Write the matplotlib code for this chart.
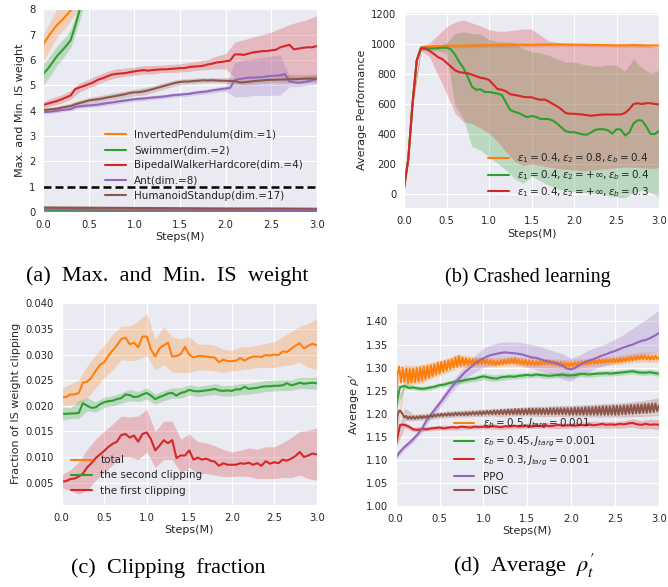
import numpy as np
import matplotlib
matplotlib.use("Agg")
import matplotlib.pyplot as plt
import seaborn as sns

sns.set_style("darkgrid")
plt.rcParams['font.family'] = ['DejaVu Sans']
plt.rcParams['mathtext.fontset'] = 'dejavusans'

C_OR, C_GR, C_RD, C_PU, C_BR = '#ff7f0e', '#2ca02c', '#d62728', '#9467bd', '#8c564b'

# ---------------- (a) Max. and Min. IS weight ----------------
a_labels = ['InvertedPendulum(dim.=1)', 'Swimmer(dim.=2)', 'BipedalWalkerHardcore(dim.=4)',
            'Ant(dim.=8)', 'HumanoidStandup(dim.=17)']
a_steps = np.linspace(0, 3, 61)
a_band_steps = np.linspace(0, 3, 31)
a_orange_steps = [0, 0.05, 0.1, 0.15, 0.2, 0.25, 0.3, 0.35, 0.4]
a_max_orange = [6.62, 6.9, 7.15, 7.38, 7.55, 7.75, 7.95, 8.15, 8.35]
a_orange_lo = [5.95, 6.3, 6.6, 6.9, 7.1, 7.3, 7.55, 7.8, 8.0]
a_orange_hi = [7.0, 7.35, 7.7, 8.0, 8.2, 8.4, 8.6, 8.8, 9.0]
a_green_steps = [0, 0.05, 0.1, 0.15, 0.2, 0.25, 0.3, 0.35, 0.4, 0.45]
a_max_green = [5.45, 5.65, 5.9, 6.15, 6.35, 6.55, 6.78, 7.35, 7.98, 8.6]
a_green_lo = [5.0, 5.25, 5.5, 5.8, 6.0, 6.25, 6.5, 7.0, 7.6, 8.2]
a_green_hi = [5.85, 6.05, 6.3, 6.55, 6.75, 6.95, 7.2, 7.7, 8.35, 9.0]
a_max_red = [4.22, 4.28, 4.33, 4.38, 4.45, 4.52, 4.60, 4.85, 4.92, 4.98,
             5.05, 5.12, 5.22, 5.28, 5.35, 5.42, 5.45, 5.47, 5.48, 5.52,
             5.55, 5.58, 5.60, 5.58, 5.60, 5.62, 5.63, 5.63, 5.65, 5.66,
             5.68, 5.68, 5.72, 5.74, 5.75, 5.77, 5.82, 5.85, 5.90, 5.92,
             5.95, 5.98, 6.22, 6.22, 6.20, 6.25, 6.30, 6.32, 6.35, 6.35,
             6.38, 6.40, 6.50, 6.55, 6.60, 6.42, 6.45, 6.48, 6.50, 6.50,
             6.55]
a_red_lo = [4.1, 4.2, 4.3, 4.45, 4.75, 4.9, 5.05, 5.2, 5.3, 5.35,
            5.4, 5.45, 5.45, 5.5, 5.5, 5.52, 5.55, 5.6, 5.62, 5.65,
            5.65, 5.3, 5.3, 5.35, 5.4, 5.4, 5.35, 5.3, 5.25, 5.2, 5.2]
a_red_hi = [4.35, 4.5, 4.62, 4.8, 5.1, 5.25, 5.4, 5.55, 5.65, 5.68,
            5.72, 5.78, 5.78, 5.8, 5.82, 5.85, 5.9, 5.95, 6.02, 6.15,
            6.25, 6.7, 6.8, 6.9, 7.0, 7.1, 7.25, 7.4, 7.5, 7.6, 7.75]
a_max_purple = [3.95, 3.95, 3.97, 3.99, 4.02, 4.04, 4.06, 4.15, 4.17, 4.19,
                4.20, 4.22, 4.24, 4.27, 4.30, 4.32, 4.35, 4.38, 4.40, 4.43,
                4.45, 4.47, 4.48, 4.50, 4.52, 4.53, 4.55, 4.57, 4.60, 4.62,
                4.63, 4.65, 4.66, 4.70, 4.72, 4.74, 4.76, 4.80, 4.82, 4.85,
                4.87, 4.90, 5.20, 5.25, 5.27, 5.30, 5.30, 5.32, 5.32, 5.35,
                5.37, 5.38, 5.40, 5.45, 5.15, 5.12, 5.10, 5.12, 5.15, 5.20,
                5.25]
a_purple_lo = [3.88, 3.9, 3.95, 3.99, 4.1, 4.13, 4.16, 4.22, 4.27, 4.32,
               4.37, 4.4, 4.44, 4.47, 4.52, 4.55, 4.58, 4.63, 4.67, 4.72,
               4.77, 4.55, 4.55, 4.6, 4.6, 4.6, 4.62, 4.95, 4.95, 5.0, 5.05]
a_purple_hi = [4.02, 4.04, 4.09, 4.14, 4.25, 4.28, 4.32, 4.38, 4.43, 4.48,
               4.53, 4.56, 4.6, 4.63, 4.68, 4.72, 4.75, 4.81, 4.85, 4.92,
               4.97, 5.9, 6.0, 6.05, 6.1, 6.15, 6.2, 5.35, 5.3, 5.35, 5.45]
a_max_brown = [4.02, 4.04, 4.06, 4.08, 4.12, 4.15, 4.18, 4.25, 4.30, 4.35,
               4.40, 4.43, 4.45, 4.48, 4.52, 4.55, 4.58, 4.62, 4.65, 4.70,
               4.72, 4.73, 4.76, 4.80, 4.85, 4.90, 4.95, 5.00, 5.05, 5.10,
               5.13, 5.15, 5.15, 5.17, 5.18, 5.20, 5.19, 5.20, 5.19, 5.18,
               5.18, 5.17, 5.17, 5.12, 5.12, 5.14, 5.16, 5.18, 5.19, 5.21,
               5.22, 5.22, 5.23, 5.23, 5.24, 5.24, 5.25, 5.26, 5.27, 5.26,
               5.26]
a_brown_lo = [3.95, 3.98, 4.03, 4.08, 4.18, 4.28, 4.33, 4.4, 4.45, 4.52,
              4.58, 4.62, 4.72, 4.82, 4.93, 5.02, 5.05, 5.08, 5.1, 5.1,
              5.08, 5.06, 5.02, 5.05, 5.08, 5.1, 5.1, 5.1, 5.1, 5.12, 5.12]
a_brown_hi = [4.1, 4.14, 4.2, 4.3, 4.42, 4.52, 4.58, 4.65, 4.72, 4.78,
              4.85, 4.9, 4.98, 5.08, 5.17, 5.25, 5.27, 5.3, 5.3, 5.3,
              5.3, 5.3, 5.25, 5.3, 5.33, 5.38, 5.4, 5.42, 5.42, 5.42, 5.42]
a_min_steps = [0, 0.5, 1.0, 1.5, 2.0, 2.5, 3.0]
a_min_orange = [0.03, 0.025, 0.02, 0.02, 0.02, 0.02, 0.02]
a_min_green = [0.06, 0.045, 0.04, 0.035, 0.035, 0.03, 0.03]
a_min_red = [0.13, 0.12, 0.11, 0.105, 0.10, 0.10, 0.10]
a_min_purple = [0.11, 0.10, 0.095, 0.09, 0.09, 0.085, 0.085]
a_min_brown = [0.18, 0.17, 0.16, 0.15, 0.14, 0.14, 0.13]
a_threshold = 1.0

# ---------------- (b) Crashed learning ----------------
b_labels = [r'$\varepsilon_1=0.4, \varepsilon_2=0.8, \varepsilon_b=0.4$',
            r'$\varepsilon_1=0.4, \varepsilon_2=+\infty, \varepsilon_b=0.4$',
            r'$\varepsilon_1=0.4, \varepsilon_2=+\infty, \varepsilon_b=0.3$']
b_steps = np.linspace(0, 3, 61)
b_band_steps = np.linspace(0, 3, 31)
b_orange = [40, 230, 600, 890, 975, 980, 982, 984, 985, 985,
            986, 987, 988, 988, 988, 989, 990, 990, 991, 991,
            992, 992, 992, 993, 993, 993, 993, 994, 994, 993,
            993, 994, 995, 995, 995, 995, 996, 996, 995, 995,
            995, 995, 994, 994, 993, 993, 993, 992, 992, 991,
            990, 991, 991, 992, 992, 992, 991, 990, 990, 990,
            990]
b_green = [40, 230, 600, 890, 975, 972, 970, 970, 972, 975,
           975, 965, 930, 880, 840, 780, 715, 695, 698, 680,
           680, 675, 670, 660, 610, 560, 548, 540, 525, 512,
           520, 515, 502, 500, 500, 490, 470, 445, 420, 412,
           412, 405, 398, 395, 410, 428, 432, 432, 425, 402,
           432, 430, 390, 410, 470, 492, 490, 450, 400, 400,
           420]
b_red = [40, 230, 600, 890, 970, 968, 955, 935, 912, 900,
         875, 850, 825, 812, 808, 805, 795, 785, 775, 770,
         760, 730, 700, 695, 685, 665, 660, 655, 648, 645,
         645, 635, 628, 630, 618, 600, 585, 565, 540, 535,
         535, 532, 530, 525, 522, 525, 528, 530, 530, 530,
         530, 530, 540, 565, 600, 605, 600, 605, 605, 600,
         598]
b_orange_lo = [35, 580, 960, 968, 970, 972, 974, 975, 976, 977,
               978, 978, 979, 980, 980, 980, 981, 982, 982, 982,
               982, 982, 981, 981, 980, 979, 978, 978, 977, 976, 975]
b_orange_hi = [45, 620, 990, 996, 1000, 1000, 1001, 1002, 1003, 1004,
               1005, 1006, 1006, 1007, 1008, 1008, 1009, 1010, 1010, 1009,
               1008, 1007, 1006, 1005, 1004, 1004, 1004, 1004, 1003, 1003, 1003]
b_green_lo = [35, 580, 960, 955, 955, 935, 590, 500, 315, 293,
              249, 204, 160, 104, 71, 120, 90, 60, 35, 25,
              15, 10, 5, 0, -10, -20, -25, 10, 25, 10, -15]
b_green_hi = [45, 620, 990, 985, 990, 1005, 1070, 1080, 1070, 1065,
              1030, 1015, 1015, 1010, 970, 950, 940, 925, 900, 880,
              880, 865, 855, 850, 860, 860, 820, 900, 840, 805, 825]
b_red_lo = [35, 580, 955, 915, 793, 671, 540, 480, 470, 440,
            404, 350, 280, 220, 190, 200, 190, 180, 170, 165,
            160, 155, 160, 165, 170, 175, 180, 178, 175, 170, 175]
b_red_hi = [45, 620, 990, 1005, 1060, 1115, 1145, 1160, 1140, 1120,
            1095, 1085, 1085, 1093, 1100, 1100, 1060, 1020, 1010, 1005,
            1005, 1000, 1000, 1000, 998, 993, 1000, 1005, 1000, 985, 975]

# ---------------- (c) Clipping fraction ----------------
c_labels = ['total', 'the second clipping', 'the first clipping']
c_steps = np.linspace(0, 3, 61)
c_band_steps = np.linspace(0, 3, 31)
c_total = [0.0217, 0.0217, 0.0222, 0.0222, 0.0225, 0.0245, 0.0247, 0.0255, 0.0268, 0.0280,
           0.0285, 0.0298, 0.0308, 0.0318, 0.0330, 0.0333, 0.0320, 0.0323, 0.0314, 0.0335,
           0.0335, 0.0310, 0.0296, 0.0312, 0.0318, 0.0323, 0.0296, 0.0297, 0.0301, 0.0315,
           0.0300, 0.0294, 0.0297, 0.0297, 0.0296, 0.0295, 0.0294, 0.0285, 0.0290, 0.0287,
           0.0287, 0.0288, 0.0293, 0.0288, 0.0293, 0.0296, 0.0296, 0.0295, 0.0299, 0.0298,
           0.0300, 0.0299, 0.0306, 0.0305, 0.0311, 0.0317, 0.0322, 0.0312, 0.0317, 0.0321,
           0.0318]
c_second = [0.0185, 0.0184, 0.0185, 0.0185, 0.0186, 0.0205, 0.0200, 0.0196, 0.0197, 0.0203,
            0.0207, 0.0209, 0.0210, 0.0213, 0.0215, 0.0222, 0.0221, 0.0217, 0.0218, 0.0222,
            0.0225, 0.0220, 0.0213, 0.0217, 0.0220, 0.0224, 0.0225, 0.0220, 0.0225, 0.0227,
            0.0231, 0.0229, 0.0228, 0.0229, 0.0230, 0.0231, 0.0233, 0.0230, 0.0229, 0.0230,
            0.0229, 0.0232, 0.0232, 0.0237, 0.0233, 0.0234, 0.0235, 0.0237, 0.0238, 0.0238,
            0.0239, 0.0239, 0.0240, 0.0244, 0.0240, 0.0242, 0.0245, 0.0243, 0.0244, 0.0245,
            0.0244]
c_first = [0.0052, 0.0053, 0.0057, 0.0058, 0.0062, 0.0068, 0.0080, 0.0088, 0.0098, 0.0105,
           0.0112, 0.0120, 0.0126, 0.0130, 0.0143, 0.0145, 0.0138, 0.0142, 0.0130, 0.0145,
           0.0148, 0.0135, 0.0113, 0.0122, 0.0133, 0.0127, 0.0133, 0.0098, 0.0103, 0.0103,
           0.0113, 0.0095, 0.0099, 0.0095, 0.0097, 0.0093, 0.0091, 0.0083, 0.0088, 0.0085,
           0.0085, 0.0085, 0.0088, 0.0087, 0.0089, 0.0085, 0.0088, 0.0083, 0.0092, 0.0087,
           0.0090, 0.0088, 0.0095, 0.0093, 0.0097, 0.0102, 0.0110, 0.0100, 0.0103, 0.0107,
           0.0105]
c_total_lo = [0.0200, 0.0202, 0.0205, 0.0215, 0.0235, 0.0255, 0.0270, 0.0290, 0.0288, 0.0290,
              0.0298, 0.0270, 0.0280, 0.0265, 0.0265, 0.0265, 0.0270, 0.0270, 0.0268, 0.0265,
              0.0268, 0.0270, 0.0272, 0.0275, 0.0275, 0.0275, 0.0278, 0.0280, 0.0285, 0.0275, 0.0270]
c_total_hi = [0.0235, 0.0242, 0.0250, 0.0278, 0.0300, 0.0318, 0.0340, 0.0355, 0.0355, 0.0365,
              0.0380, 0.0330, 0.0355, 0.0335, 0.0330, 0.0335, 0.0320, 0.0320, 0.0318, 0.0310,
              0.0308, 0.0315, 0.0315, 0.0318, 0.0322, 0.0325, 0.0335, 0.0345, 0.0355, 0.0360, 0.0370]
c_second_lo = [0.0172, 0.0175, 0.0175, 0.0190, 0.0188, 0.0197, 0.0200, 0.0205, 0.0210, 0.0208,
               0.0213, 0.0203, 0.0210, 0.0215, 0.0215, 0.0221, 0.0218, 0.0220, 0.0222, 0.0219,
               0.0219, 0.0222, 0.0223, 0.0225, 0.0228, 0.0229, 0.0230, 0.0230, 0.0234, 0.0233, 0.0232]
c_second_hi = [0.0198, 0.0196, 0.0210, 0.0215, 0.0208, 0.0217, 0.0220, 0.0225, 0.0232, 0.0228,
               0.0235, 0.0223, 0.0230, 0.0235, 0.0235, 0.0241, 0.0238, 0.0240, 0.0243, 0.0239,
               0.0240, 0.0243, 0.0244, 0.0246, 0.0249, 0.0250, 0.0251, 0.0251, 0.0255, 0.0255, 0.0256]
c_first_lo = [0.0040, 0.0035, 0.0028, 0.0035, 0.0055, 0.0070, 0.0085, 0.0100, 0.0100, 0.0095,
              0.0110, 0.0080, 0.0095, 0.0095, 0.0070, 0.0080, 0.0068, 0.0068, 0.0065, 0.0062,
              0.0062, 0.0063, 0.0062, 0.0058, 0.0058, 0.0058, 0.0060, 0.0060, 0.0065, 0.0058, 0.0055]
c_first_hi = [0.0065, 0.0075, 0.0090, 0.0115, 0.0135, 0.0150, 0.0165, 0.0180, 0.0178, 0.0180,
              0.0193, 0.0150, 0.0170, 0.0170, 0.0135, 0.0145, 0.0130, 0.0128, 0.0122, 0.0115,
              0.0110, 0.0113, 0.0118, 0.0115, 0.0120, 0.0120, 0.0128, 0.0138, 0.0150, 0.0152, 0.0157]

# ---------------- (d) Average rho' ----------------
d_labels = [r'$\varepsilon_b=0.5, J_{targ}=0.001$', r'$\varepsilon_b=0.45, J_{targ}=0.001$',
            r'$\varepsilon_b=0.3, J_{targ}=0.001$', 'PPO', 'DISC']
d_fine_steps = np.linspace(0, 3, 151)
d_steps = np.linspace(0, 3, 61)
d_band_steps = np.linspace(0, 3, 31)
d_orange = [1.135, 1.285, 1.302, 1.268, 1.300, 1.270, 1.298, 1.267, 1.297, 1.268,
            1.298, 1.269, 1.299, 1.270, 1.300, 1.272, 1.302, 1.275, 1.303, 1.278,
            1.305, 1.282, 1.307, 1.285, 1.310, 1.288, 1.312, 1.291, 1.314, 1.294,
            1.316, 1.297, 1.318, 1.300, 1.322, 1.302, 1.325, 1.304, 1.322, 1.305,
            1.320, 1.306, 1.319, 1.306, 1.318, 1.307, 1.318, 1.307, 1.319, 1.308,
            1.318, 1.308, 1.317, 1.307, 1.316, 1.306, 1.315, 1.305, 1.314, 1.306,
            1.316, 1.307, 1.317, 1.308, 1.318, 1.309, 1.319, 1.310, 1.320, 1.309,
            1.318, 1.308, 1.317, 1.307, 1.316, 1.306, 1.315, 1.306, 1.314, 1.305,
            1.314, 1.305, 1.314, 1.306, 1.315, 1.307, 1.316, 1.307, 1.315, 1.306,
            1.314, 1.305, 1.313, 1.304, 1.312, 1.303, 1.311, 1.302, 1.310, 1.302,
            1.310, 1.303, 1.311, 1.304, 1.312, 1.305, 1.313, 1.306, 1.314, 1.307,
            1.315, 1.308, 1.316, 1.309, 1.316, 1.309, 1.317, 1.310, 1.317, 1.310,
            1.318, 1.311, 1.318, 1.311, 1.319, 1.312, 1.319, 1.312, 1.320, 1.313,
            1.321, 1.314, 1.322, 1.315, 1.323, 1.316, 1.324, 1.317, 1.325, 1.318,
            1.326, 1.318, 1.326, 1.318, 1.325, 1.317, 1.325, 1.318, 1.326, 1.319,
            1.322]
d_brown = [1.140, 1.195, 1.207, 1.205, 1.198, 1.192, 1.195, 1.189, 1.194, 1.189,
           1.194, 1.189, 1.194, 1.190, 1.195, 1.190, 1.195, 1.191, 1.196, 1.192,
           1.197, 1.193, 1.198, 1.194, 1.199, 1.195, 1.200, 1.195, 1.200, 1.196,
           1.201, 1.196, 1.201, 1.196, 1.202, 1.197, 1.202, 1.197, 1.202, 1.197,
           1.203, 1.197, 1.203, 1.198, 1.204, 1.198, 1.204, 1.198, 1.205, 1.198,
           1.205, 1.199, 1.206, 1.199, 1.206, 1.199, 1.207, 1.199, 1.207, 1.199,
           1.208, 1.199, 1.208, 1.199, 1.209, 1.199, 1.209, 1.199, 1.210, 1.199,
           1.210, 1.199, 1.210, 1.199, 1.210, 1.199, 1.211, 1.199, 1.211, 1.199,
           1.211, 1.199, 1.211, 1.199, 1.211, 1.199, 1.211, 1.199, 1.212, 1.199,
           1.212, 1.199, 1.212, 1.199, 1.212, 1.199, 1.212, 1.199, 1.212, 1.198,
           1.212, 1.198, 1.213, 1.198, 1.213, 1.198, 1.213, 1.198, 1.214, 1.198,
           1.214, 1.198, 1.214, 1.198, 1.215, 1.198, 1.215, 1.198, 1.216, 1.198,
           1.216, 1.198, 1.216, 1.198, 1.217, 1.198, 1.217, 1.198, 1.217, 1.199,
           1.218, 1.199, 1.218, 1.200, 1.219, 1.200, 1.219, 1.201, 1.220, 1.201,
           1.220, 1.202, 1.221, 1.202, 1.221, 1.203, 1.222, 1.204, 1.222, 1.206,
           1.218]
d_green = [1.215, 1.258, 1.260, 1.256, 1.257, 1.255, 1.254, 1.255, 1.257, 1.259,
           1.262, 1.263, 1.266, 1.268, 1.270, 1.271, 1.273, 1.275, 1.276, 1.279,
           1.281, 1.279, 1.277, 1.276, 1.279, 1.280, 1.281, 1.280, 1.282, 1.283,
           1.284, 1.283, 1.285, 1.284, 1.283, 1.282, 1.283, 1.284, 1.285, 1.283,
           1.283, 1.284, 1.286, 1.286, 1.285, 1.286, 1.287, 1.287, 1.288, 1.287,
           1.288, 1.289, 1.290, 1.291, 1.292, 1.290, 1.289, 1.289, 1.290, 1.288,
           1.287]
d_red = [1.130, 1.176, 1.176, 1.172, 1.166, 1.165, 1.167, 1.166, 1.168, 1.169,
         1.170, 1.168, 1.170, 1.171, 1.170, 1.172, 1.171, 1.170, 1.172, 1.171,
         1.172, 1.171, 1.173, 1.172, 1.171, 1.173, 1.172, 1.174, 1.172, 1.173,
         1.174, 1.172, 1.174, 1.173, 1.175, 1.173, 1.174, 1.176, 1.174, 1.175,
         1.175, 1.174, 1.176, 1.175, 1.177, 1.175, 1.176, 1.178, 1.176, 1.177,
         1.176, 1.178, 1.177, 1.179, 1.180, 1.177, 1.176, 1.178, 1.176, 1.177,
         1.176]
d_purple = [1.105, 1.118, 1.128, 1.136, 1.145, 1.155, 1.168, 1.185, 1.198, 1.210,
            1.222, 1.235, 1.248, 1.260, 1.272, 1.282, 1.292, 1.300, 1.308, 1.315,
            1.320, 1.325, 1.328, 1.330, 1.332, 1.333, 1.332, 1.331, 1.330, 1.328,
            1.325, 1.322, 1.321, 1.318, 1.315, 1.313, 1.311, 1.308, 1.304, 1.298,
            1.296, 1.300, 1.306, 1.311, 1.315, 1.318, 1.322, 1.326, 1.329, 1.333,
            1.336, 1.340, 1.344, 1.347, 1.350, 1.354, 1.358, 1.360, 1.364, 1.369,
            1.375]
d_orange_lo = [1.130, 1.262, 1.264, 1.266, 1.276, 1.283, 1.290, 1.297, 1.300, 1.301,
               1.302, 1.301, 1.302, 1.303, 1.303, 1.301, 1.300, 1.300, 1.299, 1.297,
               1.296, 1.299, 1.302, 1.303, 1.305, 1.306, 1.308, 1.310, 1.312, 1.311, 1.312]
d_orange_hi = [1.140, 1.306, 1.304, 1.307, 1.311, 1.316, 1.321, 1.329, 1.326, 1.324,
               1.323, 1.322, 1.322, 1.324, 1.323, 1.321, 1.320, 1.320, 1.319, 1.318,
               1.318, 1.319, 1.321, 1.322, 1.324, 1.326, 1.328, 1.331, 1.334, 1.334, 1.335]
d_green_lo = [1.205, 1.254, 1.252, 1.249, 1.252, 1.257, 1.260, 1.264, 1.267, 1.270,
              1.274, 1.270, 1.272, 1.275, 1.276, 1.278, 1.279, 1.277, 1.277, 1.279,
              1.277, 1.280, 1.279, 1.281, 1.282, 1.282, 1.284, 1.286, 1.283, 1.284, 1.281]
d_green_hi = [1.225, 1.266, 1.262, 1.259, 1.262, 1.267, 1.272, 1.276, 1.279, 1.282,
              1.288, 1.284, 1.286, 1.287, 1.288, 1.290, 1.291, 1.289, 1.289, 1.291,
              1.289, 1.292, 1.291, 1.293, 1.294, 1.294, 1.296, 1.298, 1.295, 1.296, 1.293]
d_red_lo = [1.125, 1.170, 1.161, 1.162, 1.163, 1.165, 1.165, 1.165, 1.166, 1.167,
            1.167, 1.167, 1.166, 1.167, 1.167, 1.168, 1.168, 1.169, 1.168, 1.168,
            1.169, 1.170, 1.170, 1.169, 1.169, 1.169, 1.169, 1.171, 1.167, 1.168, 1.165]
d_red_hi = [1.135, 1.182, 1.171, 1.172, 1.173, 1.175, 1.175, 1.175, 1.176, 1.177,
            1.177, 1.179, 1.176, 1.177, 1.177, 1.180, 1.180, 1.181, 1.180, 1.180,
            1.181, 1.182, 1.184, 1.183, 1.183, 1.183, 1.185, 1.189, 1.185, 1.188, 1.187]
d_purple_lo = [1.100, 1.122, 1.138, 1.160, 1.190, 1.212, 1.238, 1.260, 1.278, 1.290,
               1.300, 1.305, 1.310, 1.310, 1.305, 1.300, 1.295, 1.290, 1.285, 1.275,
               1.270, 1.285, 1.290, 1.300, 1.305, 1.310, 1.315, 1.320, 1.325, 1.330, 1.335]
d_purple_hi = [1.110, 1.134, 1.152, 1.176, 1.206, 1.232, 1.258, 1.284, 1.306, 1.326,
               1.342, 1.350, 1.355, 1.356, 1.355, 1.352, 1.348, 1.342, 1.336, 1.330,
               1.320, 1.328, 1.338, 1.345, 1.352, 1.362, 1.372, 1.385, 1.398, 1.410, 1.425]
d_brown_lo = [1.135, 1.185, 1.185, 1.186, 1.188, 1.190, 1.192, 1.193, 1.193, 1.194,
              1.194, 1.195, 1.194, 1.195, 1.195, 1.195, 1.194, 1.194, 1.194, 1.194,
              1.193, 1.193, 1.193, 1.193, 1.193, 1.193, 1.193, 1.194, 1.194, 1.195, 1.196]
d_brown_hi = [1.145, 1.212, 1.200, 1.201, 1.202, 1.204, 1.206, 1.207, 1.208, 1.209,
              1.210, 1.211, 1.212, 1.213, 1.214, 1.215, 1.216, 1.216, 1.217, 1.218,
              1.218, 1.219, 1.220, 1.221, 1.222, 1.223, 1.224, 1.226, 1.228, 1.231, 1.235]

captions = ['(a)  Max.  and  Min.  IS  weight', '(b) Crashed learning',
            '(c)  Clipping  fraction', r"(d)  Average  $\rho^{\prime}_{t}$"]
caption_sizes = [16, 14.5, 16, 16]

# ---------------- drawing ----------------
W, H = 668, 587
fig = plt.figure(figsize=(W / 100, H / 100), dpi=100)

TICK = 7.2
LAB = 8.0
LEG = 7.5
LW = 1.5
ALPHA = 0.25


def style(ax, xlabel, ylabel):
    ax.set_xlim(0, 3)
    ax.set_xticks(np.arange(0, 3.01, 0.5))
    ax.xaxis.set_major_formatter(matplotlib.ticker.FormatStrFormatter('%.1f'))
    ax.tick_params(labelsize=TICK, pad=2, colors='.15')
    ax.set_xlabel(xlabel, fontsize=LAB, labelpad=2, color='.15')
    ax.set_ylabel(ylabel, fontsize=LAB, labelpad=3, color='.15')


# (a)
ax = fig.add_axes([43.3 / W, 1 - 212 / H, (316.7 - 43.3) / W, (212 - 9.3) / H])
ax.fill_between(a_orange_steps, a_orange_lo, a_orange_hi, color=C_OR, alpha=ALPHA, lw=0)
ax.fill_between(a_green_steps, a_green_lo, a_green_hi, color=C_GR, alpha=ALPHA, lw=0)
ax.fill_between(a_band_steps, a_red_lo, a_red_hi, color=C_RD, alpha=ALPHA, lw=0)
ax.fill_between(a_band_steps, a_purple_lo, a_purple_hi, color=C_PU, alpha=ALPHA, lw=0)
ax.fill_between(a_band_steps, a_brown_lo, a_brown_hi, color=C_BR, alpha=ALPHA, lw=0)
ax.plot(a_orange_steps, a_max_orange, color=C_OR, lw=LW, label=a_labels[0])
ax.plot(a_green_steps, a_max_green, color=C_GR, lw=LW, label=a_labels[1])
ax.plot(a_steps, a_max_red, color=C_RD, lw=LW, label=a_labels[2])
ax.plot(a_steps, a_max_purple, color=C_PU, lw=LW, label=a_labels[3])
ax.plot(a_steps, a_max_brown, color=C_BR, lw=LW, label=a_labels[4])
for vals, c in [(a_min_orange, C_OR), (a_min_green, C_GR), (a_min_red, C_RD),
                (a_min_purple, C_PU), (a_min_brown, C_BR)]:
    ax.plot(a_min_steps, vals, color=c, lw=LW)
ax.axhline(a_threshold, color='black', ls='--', lw=1.8, dashes=(3.2, 1.6))
ax.set_ylim(0, 8)
ax.set_yticks(range(0, 9))
style(ax, 'Steps(M)', 'Max. and Min. IS weight')
ax.legend(loc='center left', bbox_to_anchor=(0.21, 0.23), borderaxespad=0,
          frameon=False, fontsize=LEG)

# (b)
ax = fig.add_axes([404 / W, 1 - 208.3 / H, (659 - 404) / W, (208.3 - 11.7) / H])
ax.fill_between(b_band_steps, b_orange_lo, b_orange_hi, color=C_OR, alpha=ALPHA, lw=0)
ax.fill_between(b_band_steps, b_green_lo, b_green_hi, color=C_GR, alpha=ALPHA, lw=0)
ax.fill_between(b_band_steps, b_red_lo, b_red_hi, color=C_RD, alpha=ALPHA, lw=0)
ax.plot(b_steps, b_orange, color=C_OR, lw=LW, label=b_labels[0])
ax.plot(b_steps, b_green, color=C_GR, lw=LW, label=b_labels[1])
ax.plot(b_steps, b_red, color=C_RD, lw=LW, label=b_labels[2])
ax.set_ylim(-95, 1215)
ax.set_yticks(range(0, 1201, 200))
style(ax, 'Steps(M)', 'Average Performance')
ax.legend(loc='lower right', frameon=False, fontsize=LEG, labelspacing=0.3)

# (c)
ax = fig.add_axes([61.7 / W, 1 - 505 / H, (316.7 - 61.7) / W, (505 - 301.7) / H])
ax.fill_between(c_band_steps, c_total_lo, c_total_hi, color=C_OR, alpha=ALPHA, lw=0)
ax.fill_between(c_band_steps, c_second_lo, c_second_hi, color=C_GR, alpha=ALPHA, lw=0)
ax.fill_between(c_band_steps, c_first_lo, c_first_hi, color=C_RD, alpha=ALPHA, lw=0)
ax.plot(c_steps, c_total, color=C_OR, lw=LW, label=c_labels[0])
ax.plot(c_steps, c_second, color=C_GR, lw=LW, label=c_labels[1])
ax.plot(c_steps, c_first, color=C_RD, lw=LW, label=c_labels[2])
ax.set_ylim(0.00065, 0.0403)
ax.set_yticks(np.arange(0.005, 0.0401, 0.005))
ax.yaxis.set_major_formatter(matplotlib.ticker.FormatStrFormatter('%.3f'))
style(ax, 'Steps(M)', 'Fraction of IS weight clipping')
ax.legend(loc='lower left', frameon=False, fontsize=LEG)

# (d)
ax = fig.add_axes([395.7 / W, 1 - 506 / H, (659 - 395.7) / W, (506 - 303) / H])
ax.fill_between(d_band_steps, d_orange_lo, d_orange_hi, color=C_OR, alpha=ALPHA, lw=0)
ax.fill_between(d_band_steps, d_green_lo, d_green_hi, color=C_GR, alpha=ALPHA, lw=0)
ax.fill_between(d_band_steps, d_red_lo, d_red_hi, color=C_RD, alpha=ALPHA, lw=0)
ax.fill_between(d_band_steps, d_purple_lo, d_purple_hi, color=C_PU, alpha=ALPHA, lw=0)
ax.fill_between(d_band_steps, d_brown_lo, d_brown_hi, color=C_BR, alpha=ALPHA, lw=0)
ax.plot(d_fine_steps, d_orange, color=C_OR, lw=LW, label=d_labels[0])
ax.plot(d_steps, d_green, color=C_GR, lw=LW, label=d_labels[1])
ax.plot(d_steps, d_red, color=C_RD, lw=LW, label=d_labels[2])
ax.plot(d_steps, d_purple, color=C_PU, lw=LW, label=d_labels[3])
ax.plot(d_fine_steps, d_brown, color=C_BR, lw=LW, label=d_labels[4])
ax.set_ylim(1.0, 1.44)
ax.set_yticks(np.arange(1.0, 1.401, 0.05))
ax.yaxis.set_major_formatter(matplotlib.ticker.FormatStrFormatter('%.2f'))
style(ax, 'Steps(M)', r"Average $\rho'$")
ax.legend(loc='lower left', bbox_to_anchor=(0.204, 0.03), borderaxespad=0,
          frameon=False, fontsize=LEG, labelspacing=0.38)

# captions
cap_pos = [(167, 276), (528, 277), (168, 568), (524, 566)]
for (px, py), txt, fs in zip(cap_pos, captions, caption_sizes):
    fig.text(px / W, 1 - py / H, txt, ha='center', va='center',
             family='Liberation Serif', fontsize=fs, math_fontfamily='stix', color='black')

fig.savefig('out.png', dpi=100)
